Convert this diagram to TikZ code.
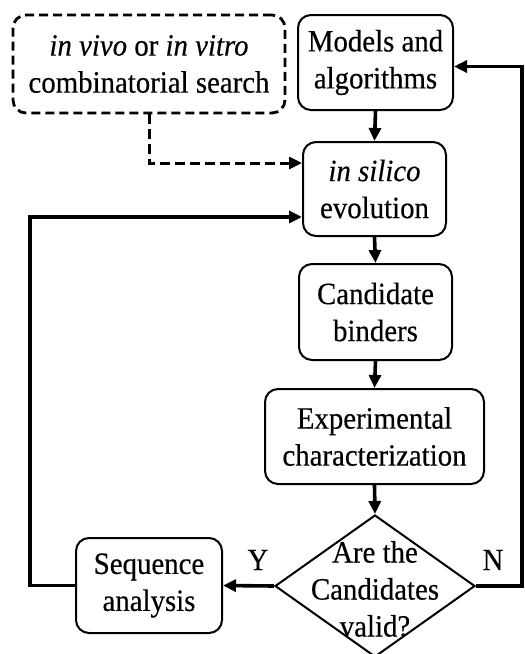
\documentclass[tikz,border=0pt]{standalone}
\usepackage{fontspec}
\setmainfont{Liberation Serif}[FakeStretch=0.93,FakeBold=0.4]
\usetikzlibrary{arrows.meta,shapes.geometric,calc}
\begin{document}
\begin{tikzpicture}[x=1pt,y=-1pt,
  font=\fontsize{31}{37}\selectfont,
  box/.style={draw,line width=2pt,rounded corners=13pt,align=center,inner sep=0pt},
  dbox/.style={box,line width=2.8pt,dash pattern=on 9pt off 5pt},
  conn/.style={line width=3.6pt,-{Triangle[length=13pt,width=12pt]}},
  dconn/.style={conn,line width=3pt,dash pattern=on 10pt off 5pt},
  plain/.style={line width=3.6pt}]
\useasboundingbox (0,0) rectangle (525,654);
\node[dbox,minimum width=272pt,minimum height=98pt] (vit) at (149,64) {\textit{in vivo} or \textit{in vitro}\\combinatorial search};
\node[box,minimum width=155pt,minimum height=95pt] (mod) at (375.5,62.5) {Models and\\algorithms};
\node[box,minimum width=143pt,minimum height=94pt] (sil) at (374.5,189) {\textit{in silico}\\evolution};
\node[box,minimum width=153pt,minimum height=96pt] (cand) at (375.5,312) {Candidate\\binders};
\node[box,minimum width=219pt,minimum height=95pt] (exp) at (374.5,436.5) {Experimental\\characterization};
\node[diamond,draw,line width=2pt,minimum width=200pt,minimum height=142pt,inner sep=0pt] (dia) at (375,586) {};
\node[align=center,inner sep=0pt] (diat) at (375,589) {Are the\\Candidates\\valid?};
\node[box,minimum width=146pt,minimum height=95pt] (seq) at (149,585.5) {Sequence\\analysis};
\node (ylab) at (258,560) {Y};
\node (nlab) at (493,560) {N};
\coordinate (lc) at (30,585.5);
\coordinate (rc) at (522,586);
\draw[conn] (mod.south) -- (sil.north);
\draw[conn] (sil.south) -- (cand.north);
\draw[conn] (cand.south) -- (exp.north);
\draw[conn] (exp.south) -- (dia.north);
\draw[conn] (dia.west) -- (seq.east);
\draw[dconn] (vit.south) |- ($(sil.west)+(0,-26)$);
\draw[conn] (seq.west) -- (lc) |- ($(sil.west)+(0,28)$);
\draw[conn] (dia.east) -- (rc) |- ($(mod.east)+(0,4)$);
\end{tikzpicture}
\end{document}
